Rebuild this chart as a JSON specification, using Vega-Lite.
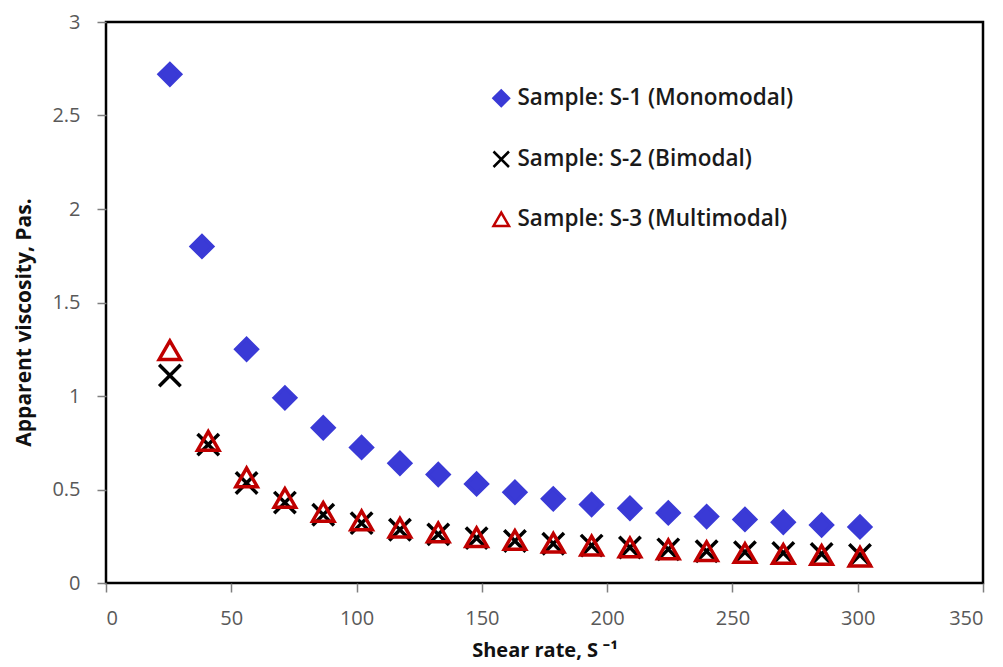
{
  "$schema": "https://vega.github.io/schema/vega-lite/v6.json",
  "width": 877,
  "height": 561,
  "autosize": "none",
  "padding": {"left": 106, "top": 22, "right": 20, "bottom": 84},
  "background": "white",
  "config": {
    "view": {"stroke": "#000000", "strokeWidth": 2.5},
    "font": "Open Sans"
  },
  "data": {
    "values": [
      {"series": "Sample: S-1 (Monomodal)", "shear": 25.5, "viscosity": 2.72},
      {"series": "Sample: S-1 (Monomodal)", "shear": 38.3, "viscosity": 1.80},
      {"series": "Sample: S-1 (Monomodal)", "shear": 56.1, "viscosity": 1.25},
      {"series": "Sample: S-1 (Monomodal)", "shear": 71.4, "viscosity": 0.99},
      {"series": "Sample: S-1 (Monomodal)", "shear": 86.7, "viscosity": 0.83},
      {"series": "Sample: S-1 (Monomodal)", "shear": 102.0, "viscosity": 0.725},
      {"series": "Sample: S-1 (Monomodal)", "shear": 117.3, "viscosity": 0.64},
      {"series": "Sample: S-1 (Monomodal)", "shear": 132.6, "viscosity": 0.58},
      {"series": "Sample: S-1 (Monomodal)", "shear": 147.9, "viscosity": 0.53},
      {"series": "Sample: S-1 (Monomodal)", "shear": 163.2, "viscosity": 0.485},
      {"series": "Sample: S-1 (Monomodal)", "shear": 178.5, "viscosity": 0.45},
      {"series": "Sample: S-1 (Monomodal)", "shear": 193.8, "viscosity": 0.42},
      {"series": "Sample: S-1 (Monomodal)", "shear": 209.1, "viscosity": 0.40},
      {"series": "Sample: S-1 (Monomodal)", "shear": 224.4, "viscosity": 0.375},
      {"series": "Sample: S-1 (Monomodal)", "shear": 239.7, "viscosity": 0.355},
      {"series": "Sample: S-1 (Monomodal)", "shear": 255.0, "viscosity": 0.34},
      {"series": "Sample: S-1 (Monomodal)", "shear": 270.3, "viscosity": 0.325},
      {"series": "Sample: S-1 (Monomodal)", "shear": 285.6, "viscosity": 0.31},
      {"series": "Sample: S-1 (Monomodal)", "shear": 300.9, "viscosity": 0.30},
      {"series": "Sample: S-2 (Bimodal)", "shear": 25.5, "viscosity": 1.11},
      {"series": "Sample: S-2 (Bimodal)", "shear": 40.8, "viscosity": 0.74},
      {"series": "Sample: S-2 (Bimodal)", "shear": 56.1, "viscosity": 0.535},
      {"series": "Sample: S-2 (Bimodal)", "shear": 71.4, "viscosity": 0.43},
      {"series": "Sample: S-2 (Bimodal)", "shear": 86.7, "viscosity": 0.365},
      {"series": "Sample: S-2 (Bimodal)", "shear": 102.0, "viscosity": 0.32},
      {"series": "Sample: S-2 (Bimodal)", "shear": 117.3, "viscosity": 0.285},
      {"series": "Sample: S-2 (Bimodal)", "shear": 132.6, "viscosity": 0.26},
      {"series": "Sample: S-2 (Bimodal)", "shear": 147.9, "viscosity": 0.24},
      {"series": "Sample: S-2 (Bimodal)", "shear": 163.2, "viscosity": 0.225},
      {"series": "Sample: S-2 (Bimodal)", "shear": 178.5, "viscosity": 0.21},
      {"series": "Sample: S-2 (Bimodal)", "shear": 193.8, "viscosity": 0.20},
      {"series": "Sample: S-2 (Bimodal)", "shear": 209.1, "viscosity": 0.19},
      {"series": "Sample: S-2 (Bimodal)", "shear": 224.4, "viscosity": 0.18},
      {"series": "Sample: S-2 (Bimodal)", "shear": 239.7, "viscosity": 0.17},
      {"series": "Sample: S-2 (Bimodal)", "shear": 255.0, "viscosity": 0.165},
      {"series": "Sample: S-2 (Bimodal)", "shear": 270.3, "viscosity": 0.16},
      {"series": "Sample: S-2 (Bimodal)", "shear": 285.6, "viscosity": 0.155},
      {"series": "Sample: S-2 (Bimodal)", "shear": 300.9, "viscosity": 0.15},
      {"series": "Sample: S-3 (Multimodal)", "shear": 25.5, "viscosity": 1.245},
      {"series": "Sample: S-3 (Multimodal)", "shear": 40.8, "viscosity": 0.76},
      {"series": "Sample: S-3 (Multimodal)", "shear": 56.1, "viscosity": 0.565},
      {"series": "Sample: S-3 (Multimodal)", "shear": 71.4, "viscosity": 0.455},
      {"series": "Sample: S-3 (Multimodal)", "shear": 86.7, "viscosity": 0.38},
      {"series": "Sample: S-3 (Multimodal)", "shear": 102.0, "viscosity": 0.335},
      {"series": "Sample: S-3 (Multimodal)", "shear": 117.3, "viscosity": 0.295},
      {"series": "Sample: S-3 (Multimodal)", "shear": 132.6, "viscosity": 0.27},
      {"series": "Sample: S-3 (Multimodal)", "shear": 147.9, "viscosity": 0.245},
      {"series": "Sample: S-3 (Multimodal)", "shear": 163.2, "viscosity": 0.23},
      {"series": "Sample: S-3 (Multimodal)", "shear": 178.5, "viscosity": 0.215},
      {"series": "Sample: S-3 (Multimodal)", "shear": 193.8, "viscosity": 0.20},
      {"series": "Sample: S-3 (Multimodal)", "shear": 209.1, "viscosity": 0.19},
      {"series": "Sample: S-3 (Multimodal)", "shear": 224.4, "viscosity": 0.18},
      {"series": "Sample: S-3 (Multimodal)", "shear": 239.7, "viscosity": 0.17},
      {"series": "Sample: S-3 (Multimodal)", "shear": 255.0, "viscosity": 0.16},
      {"series": "Sample: S-3 (Multimodal)", "shear": 270.3, "viscosity": 0.155},
      {"series": "Sample: S-3 (Multimodal)", "shear": 285.6, "viscosity": 0.15},
      {"series": "Sample: S-3 (Multimodal)", "shear": 300.9, "viscosity": 0.14}
    ]
  },
  "mark": {"type": "point", "size": 460, "strokeWidth": 3.5, "opacity": 1},
  "encoding": {
    "x": {
      "field": "shear", "type": "quantitative",
      "scale": {"domain": [0, 350], "nice": false, "zero": false},
      "axis": {
        "title": "Shear rate, S ⁻¹",
        "values": [0, 50, 100, 150, 200, 250, 300, 350],
        "grid": false, "domain": false,
        "tickColor": "#7f7f7f", "tickSize": 9, "tickWidth": 1.5,
        "labelFont": "Open Sans", "labelFontSize": 20, "labelColor": "#595959",
        "labelPadding": 16,
        "titleFont": "Open Sans", "titleFontSize": 20, "titleFontWeight": "bold",
        "titleColor": "#111111", "titlePadding": 12
      }
    },
    "y": {
      "field": "viscosity", "type": "quantitative",
      "scale": {"domain": [0, 3], "nice": false},
      "axis": {
        "title": "Apparent viscosity, Pas.",
        "values": [0, 0.5, 1, 1.5, 2, 2.5, 3],
        "format": "~g",
        "grid": false, "domain": false,
        "tickColor": "#7f7f7f", "tickSize": 9, "tickWidth": 1.5,
        "labelFont": "Open Sans", "labelFontSize": 20, "labelColor": "#595959",
        "labelPadding": 17,
        "titleFont": "Open Sans", "titleFontSize": 21, "titleFontWeight": "bold",
        "titleColor": "#111111", "titleX": -72, "titleY": 300
      }
    },
    "shape": {
      "field": "series", "type": "nominal",
      "scale": {
        "domain": ["Sample: S-1 (Monomodal)", "Sample: S-2 (Bimodal)", "Sample: S-3 (Multimodal)"],
        "range": ["diamond", "M-1,-1L1,1M-1,1L1,-1", "triangle-up"]
      }
    },
    "stroke": {
      "field": "series", "type": "nominal",
      "scale": {
        "domain": ["Sample: S-1 (Monomodal)", "Sample: S-2 (Bimodal)", "Sample: S-3 (Multimodal)"],
        "range": ["#3a3ad6", "#000000", "#c00000"]
      }
    },
    "fill": {
      "field": "series", "type": "nominal",
      "scale": {
        "domain": ["Sample: S-1 (Monomodal)", "Sample: S-2 (Bimodal)", "Sample: S-3 (Multimodal)"],
        "range": ["#3a3ad6", "transparent", "transparent"]
      },
      "legend": {
        "title": null,
        "orient": "none",
        "legendX": 384,
        "legendY": 65,
        "padding": 0,
        "rowPadding": 35,
        "symbolSize": 240,
        "symbolStrokeWidth": 2.5,
        "labelFont": "Open Sans",
        "labelFontSize": 22.5,
        "labelFontWeight": 600,
        "labelColor": "#1a1a1a",
        "labelOffset": 5,
        "labelLimit": 400
      }
    }
  }
}
